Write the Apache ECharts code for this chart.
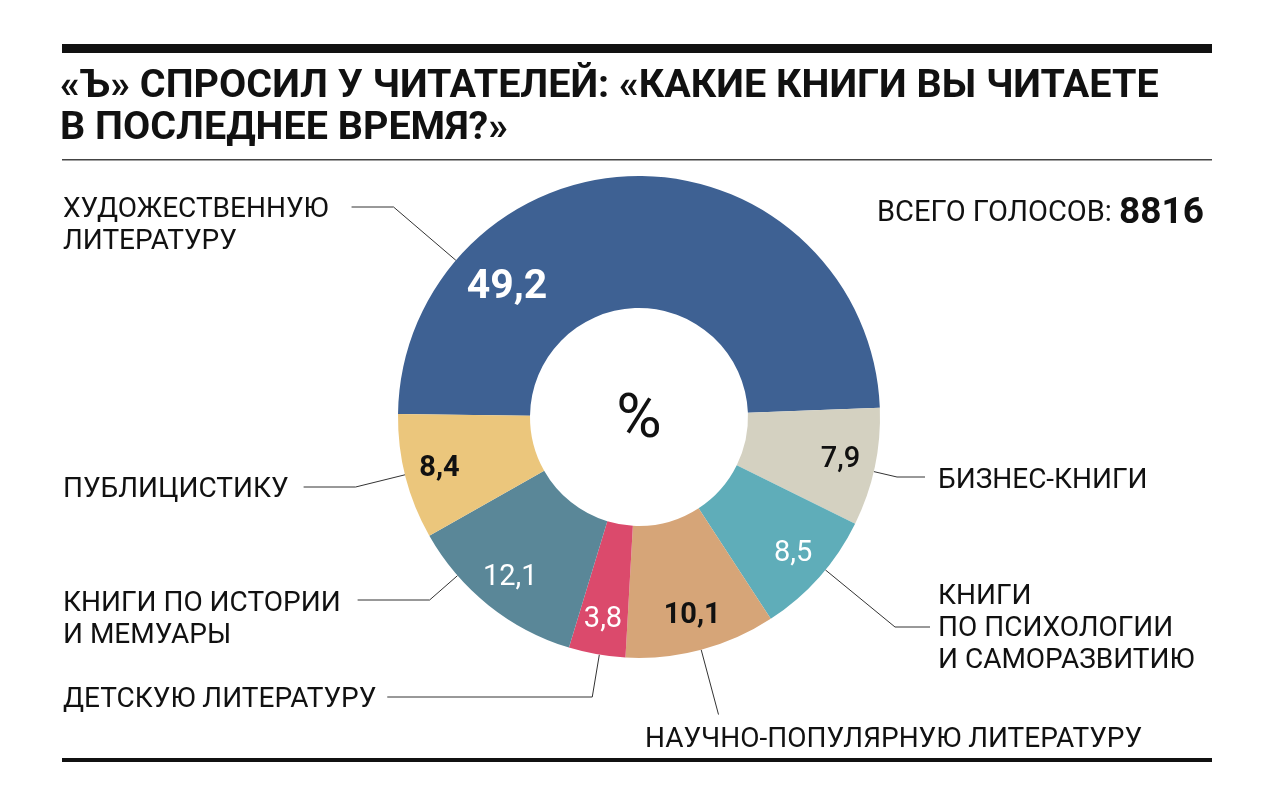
<!DOCTYPE html>
<html>
<head>
<meta charset="utf-8">
<script src="https://cdn.jsdelivr.net/npm/echarts@6/dist/echarts.min.js"></script>
<style>
  html, body { margin: 0; background: #fff; }
  #chart { width: 1280px; height: 809px; }
</style>
</head>
<body>
<div id="chart"></div>
<script>
const categories = [
  "ХУДОЖЕСТВЕННУЮ\nЛИТЕРАТУРУ",
  "БИЗНЕС-КНИГИ",
  "КНИГИ\nПО ПСИХОЛОГИИ\nИ САМОРАЗВИТИЮ",
  "НАУЧНО-ПОПУЛЯРНУЮ ЛИТЕРАТУРУ",
  "ДЕТСКУЮ ЛИТЕРАТУРУ",
  "КНИГИ ПО ИСТОРИИ\nИ МЕМУАРЫ",
  "ПУБЛИЦИСТИКУ",
];
const shares = [49.2, 7.9, 8.5, 10.1, 3.8, 12.1, 8.4];
const totalVotes = 8816;

const colors = ["#3e6193", "#d4d1c1", "#5fadb9", "#d6a578", "#db4a6c", "#5a8798", "#ebc67c"];
const valueColors = ["#fff", "#111", "#fff", "#111", "#fff", "#fff", "#111"];
const valueWeights = ["bold", 500, 400, "bold", 400, 400, "bold"];

// name label placement; the leader line runs from the text to the ring edge
const nameLayout = [
  { side: "left", x: 63, y: 226, lineY: 207, gap: 23, length2: 42 },
  { side: "right", x: 938, y: 481, lineY: 477, gap: 13, length2: 28 },
  { side: "right", x: 938, y: 629, lineY: 627, gap: 8, length2: 35 },
  { side: "below", x: 645, y: 740, length: 67 },
  { side: "left", x: 63, y: 700, lineY: 697, gap: 11, length2: 205 },
  { side: "left", x: 63, y: 620, lineY: 600, gap: 17, length2: 72 },
  { side: "left", x: 63, y: 490, lineY: 487, gap: 15, length2: 52 },
];

const FONT = "Roboto";
const center = [639, 417];
const innerR = 109;
const outerR = 241;
const startAngle = 179.3;

const chart = echarts.init(document.getElementById("chart"));

function nameLabelLayout(params) {
  const pos = nameLayout[params.dataIndex];
  const out = { x: pos.x, y: pos.y, align: "left", verticalAlign: "middle" };
  if (pos.side === "below") {
    out.labelLinePoints = params.labelLinePoints;
    return out;
  }
  const isLeft = pos.side === "left";
  const w = params.labelRect.width;
  const end = [isLeft ? pos.x + w + pos.gap : pos.x - pos.gap, pos.lineY];
  const bend = [end[0] + (isLeft ? pos.length2 : -pos.length2), pos.lineY];
  const dx = bend[0] - center[0];
  const dy = bend[1] - center[1];
  const d = Math.hypot(dx, dy);
  const anchor = [center[0] + (outerR * dx) / d, center[1] + (outerR * dy) / d];
  out.labelLinePoints = [anchor, bend, end];
  return out;
}

chart.setOption({
  animation: false,
  backgroundColor: "#fff",
  title: [
    {
      text: "«Ъ» СПРОСИЛ У ЧИТАТЕЛЕЙ: «КАКИЕ КНИГИ ВЫ ЧИТАЕТЕ\nВ ПОСЛЕДНЕЕ ВРЕМЯ?»",
      left: 60,
      top: 66,
      padding: 0,
      textStyle: {
        fontFamily: FONT,
        fontSize: 39.5,
        fontWeight: "bold",
        lineHeight: 42,
        color: "#111",
      },
    },
    {
      text: `{a|ВСЕГО ГОЛОСОВ: }{b|${totalVotes}}`,
      right: 76,
      top: 195,
      padding: 0,
      textStyle: {
        fontWeight: "normal",
        rich: {
          a: { fontFamily: FONT, fontSize: 29, fontWeight: "normal", color: "#111", lineHeight: 38 },
          b: { fontFamily: FONT, fontSize: 37, fontWeight: "bold", color: "#111", lineHeight: 38 },
        },
      },
    },
  ],
  graphic: [
    { type: "rect", shape: { x: 62, y: 44, width: 1150, height: 9 }, style: { fill: "#111" } },
    { type: "rect", shape: { x: 62, y: 159, width: 1150, height: 1.5 }, style: { fill: "#444" } },
    { type: "rect", shape: { x: 62, y: 758, width: 1150, height: 4 }, style: { fill: "#111" } },
    {
      type: "text",
      x: center[0],
      y: center[1] + 4,
      style: {
        text: "%",
        fontFamily: FONT,
        fontSize: 62,
        fill: "#111",
        align: "center",
        verticalAlign: "middle",
      },
    },
  ],
  series: [
    {
      type: "pie",
      center,
      radius: [innerR, outerR],
      startAngle,
      clockwise: true,
      avoidLabelOverlap: false,
      emphasis: { disabled: true },
      label: {
        show: true,
        position: "outside",
        formatter: "{b}",
        fontFamily: FONT,
        fontSize: 28,
        lineHeight: 32,
        color: "#111",
      },
      labelLine: {
        show: true,
        smooth: false,
        lineStyle: { color: "#333", width: 1 },
      },
      labelLayout: nameLabelLayout,
      data: shares.map((value, i) => ({
        value,
        name: categories[i],
        itemStyle: { color: colors[i] },
        labelLine: { length: nameLayout[i].length || 20, length2: 0 },
      })),
    },
    {
      type: "pie",
      center,
      radius: [165, outerR],
      startAngle,
      clockwise: true,
      silent: true,
      avoidLabelOverlap: false,
      emphasis: { disabled: true },
      itemStyle: { color: "transparent" },
      label: {
        show: true,
        position: "inside",
        formatter: (p) => String(p.value).replace(".", ","),
        fontFamily: FONT,
        fontSize: 29,
      },
      labelLine: { show: false },
      labelLayout: (params) =>
        params.dataIndex === 0 ? { x: 507, y: 288, align: "center", verticalAlign: "middle" } : {},
      data: shares.map((value, i) => ({
        value,
        name: categories[i],
        label: {
          color: valueColors[i],
          fontWeight: valueWeights[i],
          fontSize: i === 0 ? 41 : 29,
        },
      })),
    },
  ],
});
</script>
</body>
</html>
